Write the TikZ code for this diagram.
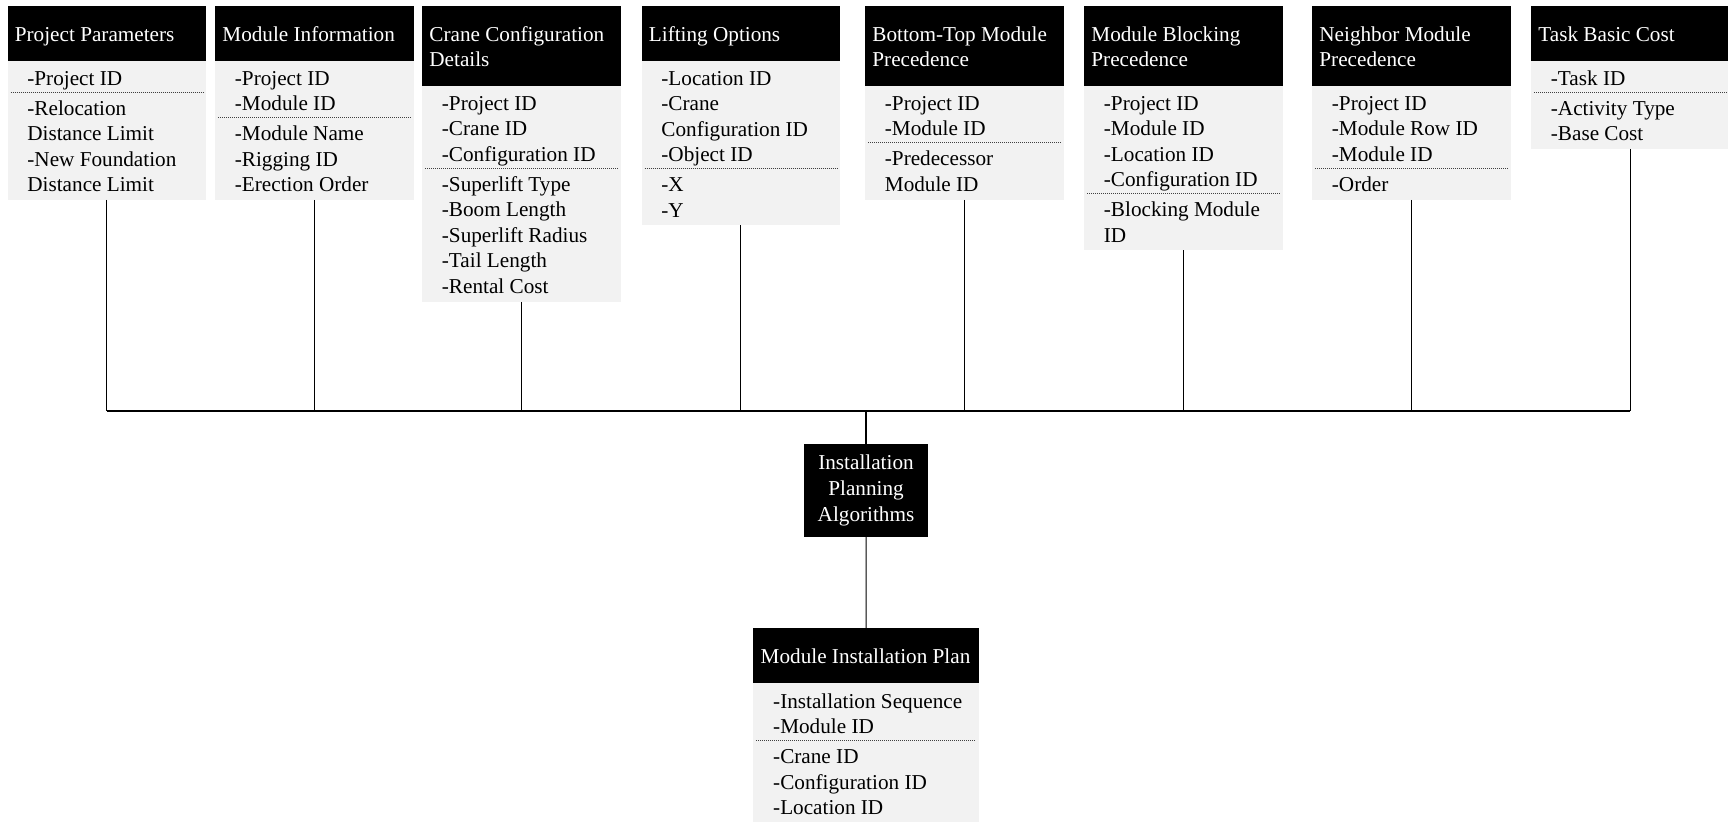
\documentclass[tikz,border=0pt]{standalone}
\usepackage{fontspec}
\setmainfont{Liberation Serif}
\usetikzlibrary{fit}
\definecolor{bodygray}{HTML}{F2F2F2}
\newcommand\boxfont{\fontsize{10.6pt}{12.75pt}\selectfont}
\newcommand\ipafont{\fontsize{10.6pt}{13pt}\selectfont}
\tikzset{
  hdrbox/.style={fill=black, draw=none, inner sep=0pt, outer sep=0pt},
  bodybox/.style={fill=bodygray, draw=none, inner sep=0pt, outer sep=0pt},
  hdrtext/.style={anchor=base west, inner sep=0pt, text=white, font=\boxfont},
  fieldtext/.style={anchor=base west, inner sep=0pt, text=black, font=\boxfont},
  keyrule/.style={black!75, line width=0.5pt, dash pattern=on 0.5pt off 0.5pt},
  link/.style={black, line width=0.65pt},
  busline/.style={black, line width=1.1pt},
  trunk/.style={black, line width=1pt},
  feed/.style={black, line width=0.5pt},
  algobox/.style={fill=black, text=white, font=\ipafont, align=center,
    inner sep=0pt, outer sep=0pt, minimum width=61.7pt, minimum height=46.2pt},
}

% #1 name, #2 left x, #3 width, #4 top y, #5 header bottom y, #6 body bottom y,
% #7 header lines (y/text), #8 key rule y, #9 field lines (y/text)
\newcommand\entity[9]{%
  \coordinate (#1-nw) at (#2,#4);
  \coordinate (#1-hse) at ({#2+#3},#5);
  \coordinate (#1-bnw) at (#2,#5);
  \coordinate (#1-se) at ({#2+#3},#6);
  \node[hdrbox, fit=(#1-nw)(#1-hse)] (#1h) {};
  \node[bodybox, fit=(#1-bnw)(#1-se)] (#1) {};
  \foreach \lny/\lnt [count=\k] in {#7} {\node[hdrtext] (#1h\k) at ({#2+7},{\lny+1.2}) {\lnt};}
  \draw[keyrule] ({#2+3},#8) -- ({#2+#3-3},#8);
  \foreach \lny/\lnt [count=\k] in {#9} {\node[fieldtext] (#1f\k) at ({#2+19.5},{\lny+1.2}) {\lnt};}
}

\begin{document}
\begin{tikzpicture}[x=0.5pt,y=-0.5pt]
\useasboundingbox (0,0) rectangle (1728,822);

% input tables
\entity{pp}{7.5}{198.5}{6}{61}{200}{40/Project Parameters}{92.5}%
  {84/-Project ID, 114/-Relocation, 139.5/Distance Limit, 165/-New Foundation, 190.5/Distance Limit}
\entity{mi}{215}{198.5}{6}{61}{200}{40/Module Information}{118}%
  {84/-Project ID, 109.5/-Module ID, 139.5/-Module Name, 165/-Rigging ID, 190.5/-Erection Order}
\entity{cc}{422}{198.5}{6}{86}{302}{40/Crane Configuration, 65.5/Details}{168.5}%
  {109/-Project ID, 134.5/-Crane ID, 160/-Configuration ID, 190/-Superlift Type, 215.5/-Boom Length, 241/-Superlift Radius, 266.5/-Tail Length, 292/-Rental Cost}
\entity{lo}{641.5}{198.5}{6}{61}{225.5}{40/Lifting Options}{169}%
  {84/-Location ID, 109.5/-Crane, 135/Configuration ID, 160.5/-Object ID, 190.5/-X, 216/-Y}
\entity{bt}{865}{198.5}{6}{86}{200}{40/Bottom-Top Module, 65.5/Precedence}{143}%
  {109/-Project ID, 134.5/-Module ID, 164.5/-Predecessor, 190/Module ID}
\entity{mb}{1084}{198.5}{6}{86}{250.5}{40/Module Blocking, 65.5/Precedence}{194}%
  {109/-Project ID, 134.5/-Module ID, 160/-Location ID, 185.5/-Configuration ID, 215.5/-Blocking Module, 241/ID}
\entity{nm}{1312}{198.5}{6}{86}{200}{40/Neighbor Module, 65.5/Precedence}{168.5}%
  {109/-Project ID, 134.5/-Module Row ID, 160/-Module ID, 190/-Order}
\entity{tc}{1531}{198.5}{6}{61}{149}{40/Task Basic Cost}{92.5}%
  {84/-Task ID, 114/-Activity Type, 139.5/-Base Cost}

% algorithm block and output table
\node[algobox] (ipa) at (866,490.5) {Installation\\Planning\\Algorithms};
\entity{mp}{753.3}{225.4}{628.3}{683.3}{822.5}{662.3/Module Installation Plan}{740.3}%
  {706.8/-Installation Sequence, 732.3/-Module ID, 762.3/-Crane ID, 787.8/-Configuration ID, 813.3/-Location ID}

% connectors
\coordinate (hub) at (866,411);
\foreach \b in {pp,mi,cc,lo,bt,mb,nm,tc} {\draw[link] (\b.south) -- (\b.south |- hub);}
\draw[busline] (pp.south |- hub) -- (tc.south |- hub);
\draw[trunk] (hub) -- (ipa.north);
\draw[feed] (ipa.south) -- (mph.north);
\end{tikzpicture}
\end{document}
